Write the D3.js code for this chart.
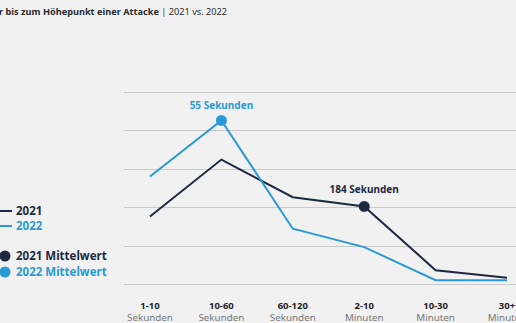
<!DOCTYPE html>
<html>
<head>
<meta charset="utf-8">
<script src="https://cdn.jsdelivr.net/npm/d3@7"></script>
<style>
  body { margin: 0; background: #f1f1f1; }
  svg { display: block; font-family: 'Noto Sans', sans-serif; }
</style>
</head>
<body>
<script>
// categories (two-line tick labels)
var catTop = ['1-10', '10-60', '60-120', '2-10', '10-30', '30+'];
var catBottom = ['Sekunden', 'Sekunden', 'Sekunden', 'Minuten', 'Minuten', 'Minuten'];

// share of attacks (%) per duration bucket
var values2021 = [8.8, 16.2, 11.3, 10.1, 1.8, 0.8];
var values2022 = [14.0, 21.3, 7.2, 4.8, 0.5, 0.5];

// mean markers: index of category, label
var mean2021 = { idx: 3, label: '184 Sekunden' };
var mean2022 = { idx: 1, label: '55 Sekunden' };

var yTicks = [0, 5, 10, 15, 20, 25];

var navy = '#1e2841', blue = '#2a9ad6', grid = '#c9c9c9';

var width = 516, height = 323;

var svg = d3.select('body').append('svg')
	.attr('width', width)
	.attr('height', height);

// scales
var xScale = d3.scalePoint().domain(catTop).range([150, 507]);
var yScale = d3.scaleLinear().domain([0, 25]).range([284, 92]);

// title (cut off at left like the original)
var title = svg.append('text')
	.attr('x', -1)
	.attr('y', 15)
	.attr('font-size', 9.2)
	.attr('fill', '#2b2b2b');
title.append('tspan').attr('font-weight', 700).text('r bis zum Höhepunkt einer Attacke');
title.append('tspan').attr('font-weight', 400).text(' | 2021 vs. 2022');

// gridlines
svg.append('g')
	.selectAll('line')
	.data(yTicks)
	.enter().append('line')
	.attr('x1', 124)
	.attr('x2', width)
	.attr('y1', function(d) { return Math.round(yScale(d)) + 0.5; })
	.attr('y2', function(d) { return Math.round(yScale(d)) + 0.5; })
	.attr('stroke', grid)
	.attr('stroke-width', 1);

// x axis labels
var xAxis = svg.append('g').attr('class', 'axis axis--x');
xAxis.selectAll('text.top')
	.data(catTop)
	.enter().append('text')
	.attr('class', 'top')
	.attr('x', function(d) { return xScale(d); })
	.attr('y', 308.5)
	.attr('text-anchor', 'middle')
	.attr('font-size', 9.5)
	.attr('font-weight', 700)
	.attr('fill', '#222')
	.text(function(d) { return d; });
xAxis.selectAll('text.bottom')
	.data(catBottom)
	.enter().append('text')
	.attr('class', 'bottom')
	.attr('x', function(d, i) { return xScale(catTop[i]); })
	.attr('y', 320.5)
	.attr('text-anchor', 'middle')
	.attr('font-size', 9.8)
	.attr('fill', '#777')
	.text(function(d) { return d; });

// lines
var line = d3.line()
	.x(function(d, i) { return xScale(catTop[i]); })
	.y(function(d) { return yScale(d); });

svg.append('path')
	.datum(values2021)
	.attr('fill', 'none')
	.attr('stroke', navy)
	.attr('stroke-width', 2)
	.attr('d', line);

svg.append('path')
	.datum(values2022)
	.attr('fill', 'none')
	.attr('stroke', blue)
	.attr('stroke-width', 2)
	.attr('d', line);

// mean markers
function meanMarker(m, vals, color, dy) {
	var cx = xScale(catTop[m.idx]), cy = yScale(vals[m.idx]);
	svg.append('circle')
		.attr('cx', cx).attr('cy', cy).attr('r', 5.5)
		.attr('fill', color);
	svg.append('text')
		.attr('x', cx).attr('y', cy + dy)
		.attr('text-anchor', 'middle')
		.attr('font-size', 10)
		.attr('font-weight', 700)
		.attr('fill', color)
		.text(m.label);
}
meanMarker(mean2022, values2022, blue, -11);
meanMarker(mean2021, values2021, navy, -13);

// legend
var legend = svg.append('g').attr('class', 'legend');
var legendItems = [
	{ type: 'line', color: navy, label: '2021', y: 211 },
	{ type: 'line', color: blue, label: '2022', y: 226 },
	{ type: 'dot', color: navy, label: '2021 Mittelwert', y: 256 },
	{ type: 'dot', color: blue, label: '2022 Mittelwert', y: 272 }
];
legendItems.forEach(function(d) {
	if (d.type === 'line') {
		legend.append('line')
			.attr('x1', 0).attr('x2', 12)
			.attr('y1', d.y).attr('y2', d.y)
			.attr('stroke', d.color).attr('stroke-width', 2);
	} else {
		legend.append('circle')
			.attr('cx', 5).attr('cy', d.y).attr('r', 5.5)
			.attr('fill', d.color);
	}
	legend.append('text')
		.attr('x', 16).attr('y', d.y + 4)
		.attr('font-size', 11.5)
		.attr('font-weight', 700)
		.attr('fill', d.color)
		.text(d.label);
});
</script>
</body>
</html>
